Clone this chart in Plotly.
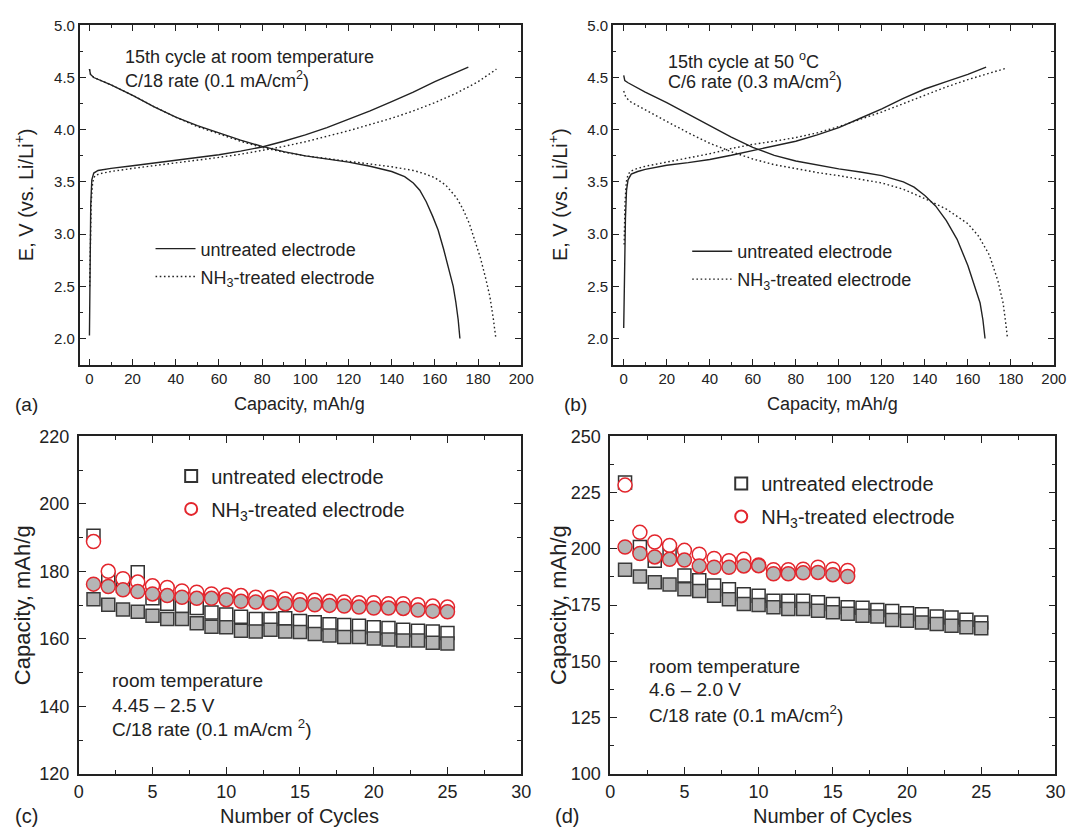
import plotly.graph_objects as go

# ---------------- data ----------------
# (a) 15th cycle at room temperature, C/18
a_untr_chg_cap = [0, 0.3, 0.6, 1.1, 2.0, 4, 10, 20, 30, 40, 50, 60, 70, 80, 90, 100, 110, 120, 130, 140, 150, 160, 170, 175.5]
a_untr_chg_v = [2.03, 2.66, 3.28, 3.52, 3.585, 3.61, 3.63, 3.655, 3.68, 3.705, 3.73, 3.76, 3.795, 3.835, 3.89, 3.95, 4.02, 4.1, 4.18, 4.27, 4.36, 4.46, 4.55, 4.6]
a_untr_dis_cap = [0, 0.5, 2, 10, 20, 30, 40, 50, 60, 70, 80, 90, 100, 110, 120, 130, 140, 146, 150, 153, 156, 159, 161.5, 164, 166.6, 168.5, 169.7, 170.8, 171.6]
a_untr_dis_v = [4.58, 4.53, 4.5, 4.43, 4.33, 4.22, 4.12, 4.04, 3.97, 3.9, 3.84, 3.79, 3.75, 3.72, 3.69, 3.65, 3.6, 3.55, 3.49, 3.42, 3.31, 3.17, 3.04, 2.86, 2.66, 2.5, 2.35, 2.18, 2.0]
a_nh3_chg_cap = [0.1, 0.3, 0.8, 1.5, 2.5, 5, 10, 20, 30, 40, 50, 60, 70, 80, 90, 100, 110, 120, 130, 140, 150, 160, 170, 180, 188.5]
a_nh3_chg_v = [2.5, 2.8, 3.3, 3.5, 3.56, 3.58, 3.6, 3.63, 3.655, 3.68, 3.705, 3.735, 3.765, 3.8, 3.84, 3.885, 3.935, 3.99, 4.05, 4.11, 4.18, 4.26, 4.35, 4.46, 4.58]
a_nh3_dis_cap = [0, 0.5, 2, 10, 20, 30, 40, 50, 60, 70, 80, 90, 100, 110, 120, 130, 140, 150, 155, 160, 165, 170, 173, 176, 178.5, 181, 183.5, 185.5, 187, 188.2]
a_nh3_dis_v = [4.58, 4.53, 4.5, 4.43, 4.33, 4.22, 4.12, 4.03, 3.96, 3.89, 3.83, 3.785, 3.75, 3.725, 3.7, 3.675, 3.645, 3.61, 3.58, 3.54, 3.47, 3.35, 3.24, 3.1, 2.95, 2.78, 2.58, 2.4, 2.2, 2.01]

# (b) 15th cycle at 50 C, C/6
b_untr_chg_cap = [0, 0.4, 0.8, 1.3, 2, 3.5, 6.5, 10, 20, 30, 40, 50, 60, 70, 80, 90, 100, 110, 120, 130, 140, 150, 160, 168.5]
b_untr_chg_v = [2.1, 2.7, 3.15, 3.42, 3.52, 3.575, 3.6, 3.62, 3.66, 3.685, 3.715, 3.755, 3.8, 3.845, 3.89, 3.95, 4.02, 4.11, 4.2, 4.3, 4.39, 4.46, 4.53, 4.6]
b_untr_dis_cap = [0, 0.5, 2, 10, 20, 30, 40, 50, 60, 70, 80, 90, 100, 110, 120, 130, 135, 140, 145, 150, 155, 160, 163, 165.7, 167, 168]
b_untr_dis_v = [4.52, 4.47, 4.45, 4.36, 4.26, 4.15, 4.04, 3.93, 3.83, 3.755, 3.7, 3.66, 3.625, 3.595, 3.56, 3.5, 3.45, 3.37, 3.27, 3.13, 2.95, 2.7, 2.52, 2.34, 2.18, 2.0]
b_nh3_chg_cap = [0.2, 0.6, 1.2, 2, 3, 5, 10, 20, 30, 40, 50, 60, 70, 80, 90, 100, 110, 120, 130, 140, 150, 160, 170, 178]
b_nh3_chg_v = [2.9, 3.3, 3.5, 3.57, 3.6, 3.62, 3.65, 3.69, 3.73, 3.77, 3.82, 3.86, 3.89, 3.925, 3.97, 4.03, 4.1, 4.17, 4.25, 4.33, 4.41, 4.48, 4.54, 4.59]
b_nh3_dis_cap = [0, 1, 3, 10, 20, 30, 40, 50, 60, 70, 80, 90, 100, 110, 120, 130, 140, 150, 160, 165, 170, 174, 176.4, 177.6, 178.4]
b_nh3_dis_v = [4.37, 4.31, 4.27, 4.19, 4.08, 3.97, 3.87, 3.79, 3.72, 3.665, 3.625, 3.59, 3.56, 3.525, 3.49, 3.43, 3.34, 3.24, 3.1, 2.98, 2.8, 2.55, 2.34, 2.15, 2.01]

# (c) cycling, room temperature, 4.45-2.5 V
c_cycles = list(range(1, 26))
c_untr_chg = [190.5, 177.6, 175.7, 179.7, 172.0, 170.4, 169.7, 169.1, 167.8, 167.2, 166.5, 165.9, 165.9, 166.1, 165.3, 164.9, 164.3, 164.1, 163.9, 163.4, 163.2, 162.7, 162.4, 162.2, 161.7]
c_untr_dis = [171.7, 170.1, 168.7, 168.0, 166.8, 165.9, 165.9, 164.6, 163.6, 163.4, 162.4, 162.2, 162.7, 162.2, 162.0, 161.4, 161.0, 160.5, 160.5, 160.1, 159.8, 159.5, 159.5, 158.8, 158.6]
c_nh3_chg = [188.8, 180.0, 177.8, 176.8, 175.7, 175.2, 174.2, 173.8, 173.3, 173.0, 172.8, 172.3, 172.3, 171.8, 171.6, 171.4, 171.1, 170.9, 170.7, 170.7, 170.4, 170.4, 170.1, 169.7, 169.4]
c_nh3_dis = [176.2, 175.5, 174.5, 174.0, 173.3, 172.8, 172.3, 172.0, 172.0, 171.6, 171.1, 170.9, 170.7, 170.4, 170.1, 170.1, 169.9, 169.7, 169.4, 169.1, 169.1, 169.0, 168.5, 168.2, 168.0]

# (d) cycling, room temperature, 4.6-2.0 V
d_cycles_untr = list(range(1, 26))
d_cycles_nh3 = list(range(1, 17))
d_untr_chg = [229.5, 200.8, 194.7, 197.9, 188.1, 186.0, 183.7, 182.0, 179.8, 179.1, 176.9, 176.9, 176.9, 176.2, 175.5, 174.0, 173.8, 172.8, 172.4, 171.4, 170.9, 169.9, 169.5, 168.5, 167.3]
d_untr_dis = [190.7, 187.7, 185.1, 184.1, 182.0, 181.2, 179.1, 177.6, 175.5, 175.0, 174.0, 173.3, 173.3, 172.5, 171.8, 171.1, 170.2, 169.9, 168.4, 168.0, 167.3, 166.6, 165.8, 165.1, 164.7]
d_nh3_chg = [228.3, 207.3, 203.0, 201.5, 199.3, 197.6, 195.7, 194.7, 195.3, 192.8, 190.7, 190.7, 190.9, 191.8, 190.9, 190.4]
d_nh3_dis = [200.8, 197.9, 196.4, 195.3, 195.0, 192.4, 191.8, 191.8, 192.4, 192.5, 188.9, 188.9, 189.3, 189.5, 188.5, 187.7]

NAME_UNTR = "untreated electrode"
NAME_NH3 = "NH<sub>3</sub>-treated electrode"

# ---------------- style ----------------
W, H = 1077, 838
FONT = "Liberation Sans, Arial, Helvetica, sans-serif"
INK = "#222222"
RED = "#e3262d"
GRAY = "#b5b5b5"


def px(p):
    return p / W


def py(p):
    return 1 - p / H


fig = go.Figure()


def join(c1, v1, c2, v2):
    return c1 + [None] + c2, v1 + [None] + v2


profiles = [
    ("x", "y", "legend",
     join(a_untr_chg_cap, a_untr_chg_v, a_untr_dis_cap, a_untr_dis_v),
     join(a_nh3_chg_cap, a_nh3_chg_v, a_nh3_dis_cap, a_nh3_dis_v)),
    ("x2", "y2", "legend2",
     join(b_untr_chg_cap, b_untr_chg_v, b_untr_dis_cap, b_untr_dis_v),
     join(b_nh3_chg_cap, b_nh3_chg_v, b_nh3_dis_cap, b_nh3_dis_v)),
]
for xa, ya, lg, untr, nh3 in profiles:
    fig.add_trace(go.Scatter(x=untr[0], y=untr[1], mode="lines", name=NAME_UNTR,
                             line=dict(color=INK, width=1.4), xaxis=xa, yaxis=ya,
                             legend=lg, legendgroup=lg + "u"))
    fig.add_trace(go.Scatter(x=nh3[0], y=nh3[1], mode="lines", name=NAME_NH3,
                             line=dict(color=INK, width=1.4, dash="1.6px,2.6px"),
                             xaxis=xa, yaxis=ya, legend=lg, legendgroup=lg + "n"))

# cycling data
cycling = [
    ("x3", "y3", "legend3", c_cycles, c_untr_chg, c_untr_dis, c_cycles, c_nh3_chg, c_nh3_dis),
    ("x4", "y4", "legend4", d_cycles_untr, d_untr_chg, d_untr_dis, d_cycles_nh3, d_nh3_chg, d_nh3_dis),
]
for xa, ya, lg, cu, uc, ud, cn, nc, nd in cycling:
    fig.add_trace(go.Scatter(x=cu, y=uc, mode="markers", name=NAME_UNTR,
                             marker=dict(symbol="square", size=13, color="white",
                                         line=dict(color="#333333", width=1.5)),
                             xaxis=xa, yaxis=ya, legend=lg, legendgroup=lg + "u"))
    fig.add_trace(go.Scatter(x=cu, y=ud, mode="markers", showlegend=False,
                             marker=dict(symbol="square", size=13, color=GRAY,
                                         line=dict(color="#3a3a3a", width=1.5)),
                             xaxis=xa, yaxis=ya))
    fig.add_trace(go.Scatter(x=cn, y=nc, mode="markers", name=NAME_NH3,
                             marker=dict(symbol="circle", size=14, color="white",
                                         line=dict(color=RED, width=1.5)),
                             xaxis=xa, yaxis=ya, legend=lg, legendgroup=lg + "n"))
    fig.add_trace(go.Scatter(x=cn, y=nd, mode="markers", showlegend=False,
                             marker=dict(symbol="circle", size=14, color=GRAY,
                                         line=dict(color=RED, width=1.5)),
                             xaxis=xa, yaxis=ya))


def axis(domain, rng, dtick, tick0, mdtick, fsize, anchor, tlen, mlen, fmt=None, standoff=None):
    d = dict(domain=domain, range=rng, anchor=anchor, dtick=dtick, tick0=tick0,
             showline=True, linecolor=INK, linewidth=1.6, mirror="ticks",
             ticks="inside", ticklen=tlen, tickwidth=1.3, tickcolor=INK,
             showgrid=False, zeroline=False, fixedrange=True,
             tickfont=dict(family=FONT, size=fsize, color=INK),
             minor=dict(ticks="inside", ticklen=mlen, tickwidth=1.2, tickcolor=INK,
                        dtick=mdtick, tick0=tick0, showgrid=False))
    if fmt:
        d["tickformat"] = fmt
    if standoff is not None:
        d["ticklabelstandoff"] = standoff
    return d


dom_a_x = [px(76), px(525)]
dom_b_x = [px(618.3), px(1066.7)]
dom_top_y = [py(363.3), py(15.7)]
dom_c_x = [px(75), px(525)]
dom_d_x = [px(615.5), px(1068.3)]
dom_bot_y = [py(782.5), py(436.7)]

layout = dict(
    width=W, height=H, margin=dict(l=0, r=0, t=0, b=0),
    paper_bgcolor="white", plot_bgcolor="white",
    font=dict(family=FONT, color=INK),
    xaxis=axis(dom_a_x, [-4.5, 200], 20, 0, 10, 15, "y", 6, 3),
    yaxis=axis(dom_top_y, [1.75, 5.0], 0.5, 2.0, 0.25, 15, "x", 6, 3, fmt=".1f"),
    xaxis2=axis(dom_b_x, [-5, 200], 20, 0, 10, 15, "y2", 6, 3),
    yaxis2=axis(dom_top_y, [1.75, 5.0], 0.5, 2.0, 0.25, 15, "x2", 6, 3, fmt=".1f"),
    xaxis3=axis(dom_c_x, [0, 30], 5, 0, 2.5, 18, "y3", 7, 4, standoff=1),
    yaxis3=axis(dom_bot_y, [120, 220], 20, 120, 10, 18, "x3", 7, 4, standoff=4),
    xaxis4=axis(dom_d_x, [0, 30], 5, 0, 2.5, 18, "y4", 7, 4, standoff=1),
    yaxis4=axis(dom_bot_y, [100, 250], 25, 100, 12.5, 18, "x4", 7, 4, standoff=4),
    showlegend=True,
)

leg_common_top = dict(xanchor="left", yanchor="top", bgcolor="rgba(0,0,0,0)",
                      borderwidth=0, itemwidth=40, tracegroupgap=1.5,
                      font=dict(family=FONT, size=18, color=INK))
leg_common_bot = dict(xanchor="left", yanchor="top", bgcolor="rgba(0,0,0,0)",
                      borderwidth=0, itemsizing="constant", tracegroupgap=4,
                      font=dict(family=FONT, size=20, color=INK))
layout["legend"] = dict(x=px(148), y=py(225.8), **leg_common_top)
layout["legend2"] = dict(x=px(693.8), y=py(228.5), **leg_common_top)
layout["legend3"] = dict(x=px(169), y=py(457.3), **leg_common_bot)
layout["legend4"] = dict(x=px(728.4), y=py(465.1), **leg_common_bot)

ann = []


def text(x, y, s, size, xref="paper", yref="paper", xanchor="center", angle=0):
    ann.append(dict(x=x, y=y, xref=xref, yref=yref, text=s, showarrow=False,
                    xanchor=xanchor, yanchor="middle", textangle=angle,
                    font=dict(family=FONT, size=size, color=INK)))


# axis titles and panel letters
text(px(300), py(404), "Capacity, mAh/g", 18)
text(px(842), py(404), "Capacity, mAh/g", 18)
text(px(19), py(189), "E, V (vs. Li/Li<sup>+</sup>)", 20, angle=-90)
text(px(562), py(189), "E, V (vs. Li/Li<sup>+</sup>)", 20, angle=-90)
text(px(22), py(404), "(a)", 19)
text(px(580), py(404), "(b)", 19)
text(px(300), py(826), "Number of Cycles", 20)
text(px(842), py(826), "Number of Cycles", 20)
text(px(18), py(610), "Capacity, mAh/g", 22, angle=-90)
text(px(563), py(610), "Capacity, mAh/g", 22, angle=-90)
text(px(22), py(826), "(c)", 20)
text(px(572), py(826), "(d)", 20)

# in-panel notes
text(15.5, 4.70, "15th cycle at room temperature", 18, "x", "y", "left")
text(15.5, 4.485, "C/18 rate (0.1 mA/cm<sup>2</sup>)", 18, "x", "y", "left")
text(19.8, 4.665, "15th cycle at 50 <sup>o</sup>C", 18, "x2", "y2", "left")
text(19.8, 4.47, "C/6 rate (0.3 mA/cm<sup>2</sup>)", 18, "x2", "y2", "left")
text(2.1, 147.5, "room temperature", 19, "x3", "y3", "left")
text(2.1, 140.3, "4.45 \u2013 2.5 V", 19, "x3", "y3", "left")
text(2.1, 133.5, "C/18 rate (0.1 mA/cm <sup>2</sup>)", 19, "x3", "y3", "left")
text(2.46, 147.6, "room temperature", 19, "x4", "y4", "left")
text(2.46, 137.4, "4.6 \u2013 2.0 V", 19, "x4", "y4", "left")
text(2.46, 126.5, "C/18 rate (0.1 mA/cm<sup>2</sup>)", 19, "x4", "y4", "left")

layout["annotations"] = ann
fig.update_layout(**layout)

fig.write_html("out.html")
